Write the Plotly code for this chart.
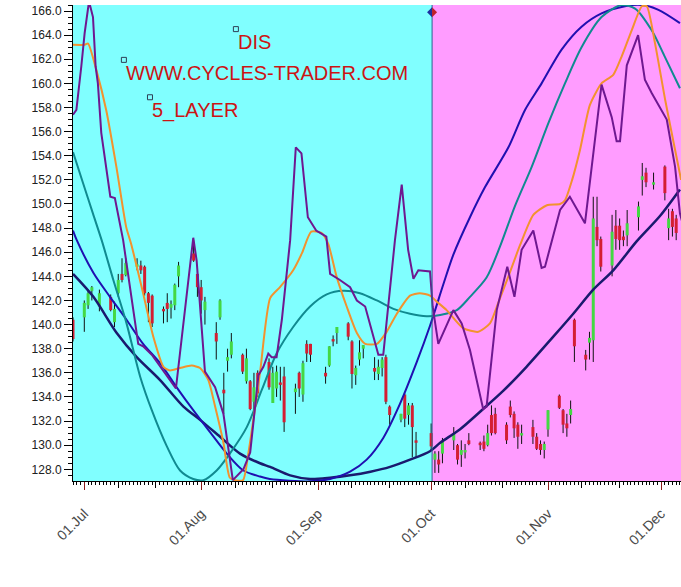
import numpy as np
import pandas as pd
import plotly.graph_objects as go

# ---------------- data (DIS, 2019) ----------------
candle_date = ["2019-06-28", "2019-07-01", "2019-07-02", "2019-07-03", "2019-07-05", "2019-07-08",
               "2019-07-09", "2019-07-10", "2019-07-11", "2019-07-12", "2019-07-15", "2019-07-16",
               "2019-07-17", "2019-07-18", "2019-07-19", "2019-07-22", "2019-07-23", "2019-07-24",
               "2019-07-25", "2019-07-26", "2019-07-30", "2019-07-31", "2019-08-01", "2019-08-02",
               "2019-08-05", "2019-08-06", "2019-08-07", "2019-08-08", "2019-08-09", "2019-08-12",
               "2019-08-13", "2019-08-14", "2019-08-15", "2019-08-16", "2019-08-19", "2019-08-20",
               "2019-08-21", "2019-08-22", "2019-08-23", "2019-08-26", "2019-08-27", "2019-08-28",
               "2019-08-29", "2019-08-30", "2019-09-03", "2019-09-04", "2019-09-05", "2019-09-06",
               "2019-09-09", "2019-09-10", "2019-09-11", "2019-09-12", "2019-09-13", "2019-09-16",
               "2019-09-17", "2019-09-18", "2019-09-19", "2019-09-20", "2019-09-23", "2019-09-24",
               "2019-09-25", "2019-09-26", "2019-09-27", "2019-10-01", "2019-10-02", "2019-10-03",
               "2019-10-04", "2019-10-07", "2019-10-08", "2019-10-09", "2019-10-10", "2019-10-11",
               "2019-10-14", "2019-10-15", "2019-10-16", "2019-10-17", "2019-10-18", "2019-10-21",
               "2019-10-22", "2019-10-23", "2019-10-24", "2019-10-25", "2019-10-28", "2019-10-29",
               "2019-10-30", "2019-10-31", "2019-11-01", "2019-11-04", "2019-11-05", "2019-11-06",
               "2019-11-07", "2019-11-08", "2019-11-11", "2019-11-12", "2019-11-13", "2019-11-14",
               "2019-11-15", "2019-11-18", "2019-11-19", "2019-11-20", "2019-11-21", "2019-11-22",
               "2019-11-25", "2019-11-26", "2019-11-27", "2019-11-29", "2019-12-02", "2019-12-03",
               "2019-12-04", "2019-12-05"]
candle_open = [140.4, 140.6, 141.6, 142.8, 141.5, 142.3, 140.2, 142.6, 144.2, 144.1, 144.8, 144.9,
               144.8, 142.6, 142.4, 141.3, 141.8, 141.4, 141.6, 144.0, 145.9, 144.2, 143.1, 141.2,
               139.3, 140.6, 134.6, 137.0, 137.5, 137.5, 135.3, 135.3, 133.6, 136.0, 136.9, 133.5,
               134.7, 135.2, 135.7, 134.4, 136.0, 134.2, 138.4, 138.4, 136.0, 136.6, 138.8, 139.3,
               140.1, 138.6, 135.8, 137.1, 138.0, 136.4, 135.9, 136.4, 137.3, 133.2, 132.1, 134.2,
               132.5, 133.3, 130.4, 131.0, 128.8, 128.8, 129.3, 130.4, 130.0, 129.2, 129.4, 130.4,
               130.2, 130.3, 130.0, 132.5, 132.6, 131.7, 133.2, 132.6, 131.7, 130.8, 131.5, 130.7,
               130.1, 129.6, 131.3, 134.1, 132.9, 131.8, 132.5, 140.4, 137.5, 138.5, 138.7, 148.1,
               147.1, 144.9, 148.2, 148.2, 147.3, 147.4, 148.9, 152.0, 152.6, 151.6, 153.1, 148.0,
               149.4, 148.8]
candle_high = [140.6, 142.0, 142.9, 143.2, 142.9, 142.5, 141.9, 144.2, 145.5, 145.5, 145.5, 145.3,
               144.9, 142.7, 142.5, 141.5, 142.6, 142.0, 143.4, 145.2, 147.0, 144.5, 143.7, 142.3,
               140.2, 142.1, 136.0, 138.0, 139.3, 137.6, 138.0, 135.4, 136.0, 136.2, 137.2, 136.5,
               136.6, 136.5, 136.5, 135.1, 136.1, 137.0, 138.7, 138.4, 136.5, 138.2, 139.1, 139.8,
               140.2, 138.7, 136.6, 138.7, 138.3, 137.3, 137.1, 137.3, 137.5, 133.3, 132.6, 134.3,
               133.5, 133.5, 131.1, 131.8, 129.5, 129.5, 130.6, 131.5, 130.1, 130.4, 130.1, 131.0,
               130.3, 130.8, 131.7, 133.3, 133.1, 131.9, 133.7, 132.8, 131.9, 131.7, 132.1, 131.0,
               130.4, 130.3, 132.9, 134.2, 133.0, 132.6, 133.7, 140.5, 137.9, 139.4, 150.6, 150.6,
               147.3, 149.1, 149.5, 148.8, 147.8, 149.5, 150.2, 153.4, 153.0, 152.6, 153.2, 149.6,
               149.6, 149.1]
candle_low = [138.6, 139.4, 141.3, 142.0, 141.1, 141.1, 139.8, 142.3, 143.5, 144.0, 144.5, 144.2,
              142.4, 140.2, 139.8, 140.1, 140.2, 140.5, 141.2, 143.1, 145.2, 142.3, 140.9, 140.0,
              137.1, 140.4, 132.6, 136.1, 137.2, 135.9, 135.1, 132.9, 132.6, 134.0, 134.6, 133.5,
              134.0, 133.7, 131.1, 132.6, 134.0, 133.6, 136.9, 136.9, 135.1, 136.5, 138.2, 138.4,
              138.7, 134.7, 135.0, 136.6, 137.2, 135.4, 135.4, 135.7, 133.4, 131.7, 131.9, 131.5,
              131.7, 129.0, 129.0, 129.6, 127.7, 127.7, 128.5, 129.6, 128.4, 128.2, 128.9, 130.0,
              129.6, 129.5, 129.9, 130.8, 130.9, 130.1, 132.3, 130.6, 129.7, 130.1, 130.1, 129.6,
              129.2, 128.9, 130.7, 133.0, 131.0, 130.7, 131.8, 136.9, 136.2, 137.1, 136.9, 146.5,
              144.4, 144.0, 146.2, 146.2, 146.5, 146.5, 147.8, 150.7, 151.4, 151.2, 150.3, 147.0,
              147.3, 147.0]
candle_close = [138.8, 141.8, 142.6, 143.1, 142.6, 141.2, 141.3, 143.7, 143.7, 145.1, 145.0, 144.5,
                142.6, 141.8, 140.1, 141.1, 141.3, 141.7, 143.3, 144.9, 145.3, 143.1, 142.0, 141.9,
                138.6, 142.0, 134.3, 137.3, 138.6, 136.1, 137.2, 133.0, 134.8, 134.3, 134.8, 136.0,
                136.1, 135.0, 131.9, 134.7, 134.7, 136.8, 137.6, 137.5, 135.7, 138.2, 138.6, 139.8,
                139.0, 135.9, 136.4, 137.7, 138.3, 136.1, 136.5, 137.1, 133.6, 132.5, 132.6, 132.2,
                133.3, 131.5, 130.2, 129.9, 129.3, 128.4, 130.3, 131.0, 128.8, 129.6, 129.6, 130.1,
                130.0, 129.7, 131.0, 131.0, 131.0, 130.4, 132.5, 131.4, 130.7, 131.0, 130.7, 129.7,
                129.6, 130.1, 132.9, 133.1, 131.7, 131.4, 133.0, 138.2, 137.1, 138.9, 148.8, 147.0,
                144.8, 147.7, 147.1, 147.0, 147.0, 148.4, 149.8, 152.3, 151.8, 151.8, 150.9, 148.8,
                148.1, 147.6]

# cycle lines: x = days after 01 Jul 2019, y = price
purple_day = [-3.0, -2.1, -0.8, 0.1, 1.25, 2.3, 3.0, 3.6, 4.5, 5.8, 6.9, 8.1, 8.9, 10.3, 14.3, 15.6,
              17.9, 24.3, 28.9, 29.8, 32.0, 34.7, 36.9, 39.4, 42.2, 44.0, 46.2, 47.5, 48.8, 49.7,
              51.0, 52.4, 54.6, 56.1, 57.6, 59.3, 61.5, 64.2, 65.2, 67.8, 70.5, 72.3, 74.5, 78.0,
              79.3, 82.4, 84.2, 85.9, 87.3, 88.6, 91.7, 92.4, 93.9, 97.9, 100.1, 102.3, 105.8,
              106.7, 109.4, 112.2, 114.1, 116.0, 119.1, 121.3, 122.2, 126.2, 128.8, 132.8, 137.2,
              139.9, 141.2, 142.1, 143.9, 146.9, 148.7, 150.5, 154.5, 156.7, 158.0, 158.8]
purple_val = [157.4, 157.8, 161.4, 164.2, 166.8, 165.5, 161.4, 160.0, 155.9, 153.1, 150.6, 150.5,
              149.3, 147.0, 138.4, 138.2, 137.5, 134.7, 147.2, 145.3, 136.1, 134.8, 132.6, 127.1,
              128.0, 129.4, 135.8, 136.5, 137.6, 137.3, 137.3, 140.4, 147.0, 154.7, 154.2, 148.9,
              147.8, 147.3, 144.2, 143.7, 143.1, 142.0, 141.5, 137.5, 137.5, 147.0, 151.6, 146.2,
              143.8, 144.5, 144.4, 141.5, 138.4, 141.2, 140.1, 137.9, 133.0, 133.2, 141.2, 144.8,
              142.3, 146.2, 147.8, 144.7, 144.8, 149.5, 150.6, 148.4, 159.9, 157.2, 155.2, 155.2,
              161.5, 164.0, 160.3, 159.2, 157.0, 153.1, 149.2, 148.3]

orange_day = [-3.0, 0.1, 1.0, 3.2, 5.8, 8.5, 11.1, 12.5, 15.6, 18.3, 21.0, 22.7, 25.4, 28.5, 30.7,
              32.9, 34.7, 36.9, 38.6, 40.0, 42.1, 43.5, 46.6, 49.3, 51.9, 55.4, 57.7, 60.2, 62.9,
              64.7, 66.9, 69.6, 72.3, 74.5, 77.6, 80.2, 82.9, 86.4, 89.0, 91.7, 93.5, 96.1, 100.5,
              104.5, 107.6, 109.8, 112.5, 115.6, 119.1, 122.7, 126.2, 127.5, 129.4, 131.5, 134.1,
              137.2, 140.3, 142.5, 145.2, 147.9, 149.2, 151.4, 154.1, 156.7, 158.3]
orange_val = [163.2, 163.2, 163.3, 161.1, 157.8, 153.1, 148.1, 146.6, 142.6, 139.0, 136.5, 136.2,
              136.4, 136.6, 136.4, 135.4, 133.2, 130.2, 127.3, 127.1, 127.1, 129.3, 136.0, 142.2,
              143.1, 144.5, 145.9, 147.7, 147.6, 146.7, 144.0, 141.5, 139.3, 138.4, 138.4, 139.4,
              140.9, 142.4, 142.6, 142.4, 141.9, 141.2, 139.7, 139.4, 140.1, 141.8, 144.0, 146.6,
              149.1, 149.9, 150.0, 150.3, 152.0, 154.5, 158.2, 160.0, 160.7, 162.2, 164.4, 166.4,
              166.4, 163.3, 158.6, 154.5, 152.0]

teal_day = [-3.0, -0.3, 2.3, 4.6, 7.7, 11.2, 14.8, 17.9, 21.9, 25.4, 28.9, 31.6, 35.1, 38.6, 43.1,
            47.1, 51.0, 55.4, 59.9, 64.3, 68.7, 73.1, 77.6, 82.0, 86.4, 90.8, 94.4, 98.8, 102.3,
            106.7, 110.3, 114.2, 118.7, 123.1, 127.5, 131.9, 137.2, 142.5, 146.1, 150.5, 154.0, 158.0]
teal_val = [154.3, 151.7, 149.2, 147.0, 143.7, 140.1, 135.7, 132.9, 129.9, 127.9, 127.2, 127.1,
            127.9, 129.3, 131.5, 134.6, 137.6, 139.8, 141.5, 142.5, 142.8, 142.6, 142.0, 141.3,
            140.9, 140.7, 140.8, 141.2, 142.3, 143.9, 146.5, 149.8, 153.1, 156.7, 160.0, 163.0,
            165.5, 166.5, 166.2, 164.4, 162.2, 159.6]

blue_day = [-3.0, -2.0, 2.4, 6.8, 11.2, 15.6, 20.1, 24.5, 28.9, 33.3, 37.8, 42.2, 46.6, 49.2, 59.9,
            65.2, 70.5, 74.9, 79.3, 83.7, 88.2, 91.7, 95.2, 97.9, 102.3, 106.3, 112.5, 116.9, 121.3,
            126.6, 131.9, 137.2, 143.4, 147.9, 152.3, 158.0]
blue_val = [147.8, 147.0, 144.3, 142.3, 140.4, 138.4, 136.8, 134.8, 132.9, 131.1, 129.3, 127.9,
            127.4, 127.2, 127.0, 127.2, 127.8, 128.8, 130.6, 133.4, 136.9, 139.9, 143.3, 145.8,
            148.9, 151.4, 154.7, 157.8, 160.0, 162.8, 164.7, 165.8, 166.4, 166.5, 166.1, 165.0]

navy_day = [-3.0, 2.4, 8.6, 13.9, 20.1, 26.3, 30.7, 36.0, 41.3, 46.6, 49.3, 54.6, 59.9, 65.2, 70.5,
            75.9, 81.1, 86.4, 91.7, 94.4, 99.6, 105.8, 111.1, 117.3, 124.4, 129.7, 135.0, 140.3,
            146.5, 152.7, 158.0]
navy_val = [144.2, 142.3, 139.3, 137.3, 135.4, 133.2, 132.1, 130.7, 129.3, 128.5, 128.2, 127.5,
            127.2, 127.3, 127.5, 127.8, 128.2, 128.8, 129.5, 130.2, 131.3, 133.0, 134.5, 136.5,
            139.0, 140.9, 142.9, 144.5, 146.9, 149.0, 151.2]

label_text = ["DIS", "WWW.CYCLES-TRADER.COM", "5_LAYER"]
label_date = ["2019-08-10 05:00", "2019-07-11 12:00", "2019-07-18 10:00"]
label_price = [164.5, 161.95, 158.85]

projection_start = "2019-10-01 06:00"
marker_price = 165.9

x_range = ["2019-06-28", "2019-12-06 06:40"]
y_range = [127.03, 166.5]

# ------------------------------------------------------------------------
BASE = pd.Timestamp("2019-07-01")


def to_dates(days):
    return [BASE + pd.Timedelta(hours=float(d) * 24.0) for d in days]


fig = go.Figure()

# candles: wicks (black) and coloured bodies
wx, wy, gx, gy, rx, ry = [], [], [], [], [], []
for d, o, h, l, c in zip(candle_date, candle_open, candle_high, candle_low, candle_close):
    wx += [d, d, None]
    wy += [l, h, None]
    if c >= o:
        gx += [d, d, None]
        gy += [o, c, None]
    else:
        rx += [d, d, None]
        ry += [o, c, None]

fig.add_trace(go.Scatter(x=wx, y=wy, mode="lines", line=dict(color="#111111", width=1),
                         hoverinfo="skip"))
fig.add_trace(go.Scatter(x=gx, y=gy, mode="lines", line=dict(color="#44D844", width=3),
                         hoverinfo="skip"))
fig.add_trace(go.Scatter(x=rx, y=ry, mode="lines", line=dict(color="#D41E32", width=3),
                         hoverinfo="skip"))

# cycle lines
fig.add_trace(go.Scatter(x=to_dates(navy_day), y=navy_val, mode="lines",
                         line=dict(color="#1A1A6E", width=2.5, shape="spline", smoothing=0.8)))
fig.add_trace(go.Scatter(x=to_dates(blue_day), y=blue_val, mode="lines",
                         line=dict(color="#2010B0", width=2, shape="spline", smoothing=0.8)))
fig.add_trace(go.Scatter(x=to_dates(teal_day), y=teal_val, mode="lines",
                         line=dict(color="#108A90", width=2, shape="spline", smoothing=0.8)))
fig.add_trace(go.Scatter(x=to_dates(orange_day), y=orange_val, mode="lines",
                         line=dict(color="#F2922E", width=2, shape="spline", smoothing=0.6)))
fig.add_trace(go.Scatter(x=to_dates(purple_day), y=purple_val, mode="lines",
                         line=dict(color="#6E1890", width=2)))

# label anchor squares
fig.add_trace(go.Scatter(x=label_date, y=label_price, mode="markers", cliponaxis=False,
                         marker=dict(symbol="square-open", size=5, color="#2E3E55",
                                     line=dict(width=1, color="#2E3E55")),
                         hoverinfo="skip"))

# weekly yellow markers under the axis (on overlay axis x2)
weeks = pd.date_range("2019-06-30", "2019-12-01", freq="7D")
fig.add_trace(go.Scatter(x=weeks, y=[126.74] * len(weeks), xaxis="x2", mode="markers",
                         cliponaxis=False,
                         marker=dict(symbol="square", size=6, color="#F2F21A"),
                         hoverinfo="skip"))

for t, d, p in zip(label_text, label_date, label_price):
    fig.add_annotation(x=d, y=p, text=t, showarrow=False, xanchor="left", yanchor="top",
                       font=dict(family="Liberation Sans, Arial, sans-serif", size=20,
                                 color="#CC1414"))

mid_ticks = ["2019-07-10", "2019-07-20", "2019-08-10", "2019-08-20", "2019-09-10", "2019-09-20",
             "2019-10-10", "2019-10-20", "2019-11-10", "2019-11-20"]

shapes = [
    dict(type="rect", xref="x", yref="paper", x0=projection_start, x1="2019-12-31", y0=0, y1=1,
         fillcolor="#FF9CFF", line=dict(width=0), layer="below"),
    dict(type="line", xref="x", yref="paper", x0=projection_start, x1=projection_start,
         y0=0, y1=1, line=dict(color="#2F5F8F", width=1)),
    dict(type="path", xref="x", yref="y", xsizemode="pixel", ysizemode="pixel",
         xanchor=projection_start, yanchor=marker_price,
         path="M0,5 L-5,0 L0,-5 Z", fillcolor="#1C2FA0", line=dict(width=0)),
    dict(type="path", xref="x", yref="y", xsizemode="pixel", ysizemode="pixel",
         xanchor=projection_start, yanchor=marker_price,
         path="M0,5 L5,0 L0,-5 Z", fillcolor="#C0202A", line=dict(width=0)),
]

fig.update_layout(
    width=681, height=587,
    margin=dict(l=73, r=0, t=5, b=106, autoexpand=False),
    paper_bgcolor="white", plot_bgcolor="#80FFFF",
    showlegend=False,
    shapes=shapes,
    xaxis=dict(type="date", range=x_range, tick0="2019-07-01", dtick="M1", tickformat="%d.%b",
               tickangle=-45, ticks="outside", ticklen=8, tickwidth=1, tickcolor="#8B1A1A",
               showline=True, linecolor="black", linewidth=1, showgrid=False, zeroline=False,
               ticklabelstandoff=10, automargin=False,
               tickfont=dict(family="Liberation Sans, Arial, sans-serif", size=14,
                             color="#4A4A4A"),
               minor=dict(dtick=86400000, tick0="2019-07-01", ticks="outside", ticklen=3,
                          tickcolor="black", showgrid=False)),
    xaxis2=dict(type="date", overlaying="x", matches="x", side="bottom", anchor="y",
                tickmode="array", tickvals=mid_ticks, ticks="outside", ticklen=6,
                tickcolor="black", showticklabels=False, showline=False, showgrid=False,
                zeroline=False, automargin=False),
    yaxis=dict(range=y_range, tick0=128, dtick=2, tickformat=".1f", ticks="outside",
               ticklen=8, tickcolor="black", showline=True, linecolor="black", linewidth=1,
               showgrid=False, zeroline=False, automargin=False,
               tickfont=dict(family="Liberation Sans, Arial, sans-serif", size=12,
                             color="#202020"),
               minor=dict(dtick=0.5, tick0=128, ticks="outside", ticklen=4, tickcolor="black",
                          showgrid=False)),
)

fig.write_html("out.html", config={"displayModeBar": False},
               post_script="document.body.style.margin='0px';document.body.style.padding='0px';")
